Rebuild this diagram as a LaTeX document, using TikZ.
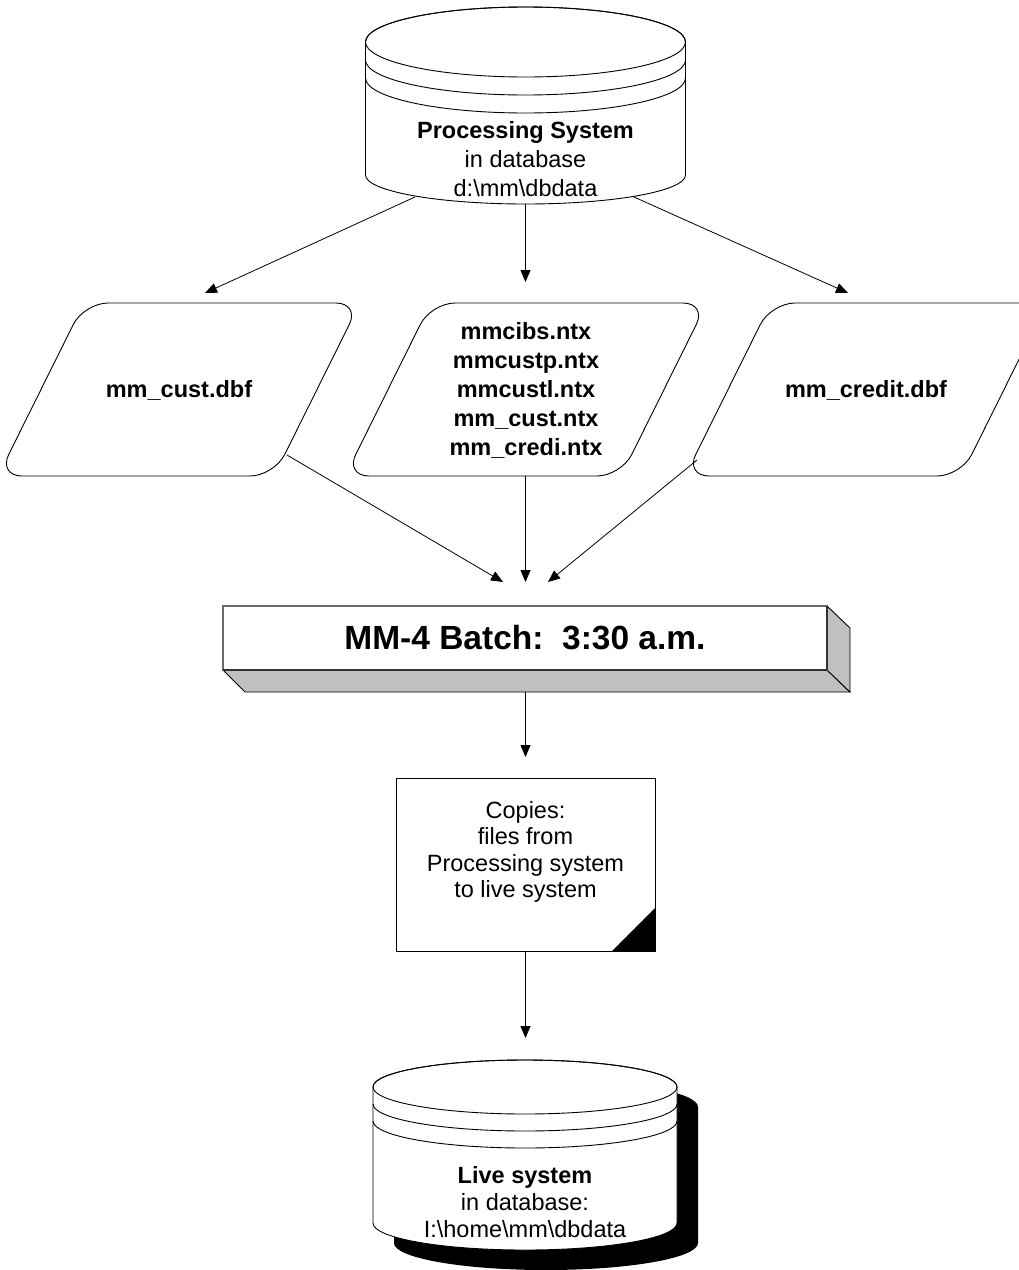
\documentclass[tikz,border=0pt]{standalone}
\usepackage{fontspec}
\setmainfont{Liberation Sans}
\usetikzlibrary{arrows.meta}
\definecolor{sidegray}{HTML}{C0C0C0}
\definecolor{edgegray}{HTML}{6A6A6A}
\begin{document}
\begin{tikzpicture}[x=1pt,y=-1pt,line width=0.9pt,
  conn/.style={-{Triangle[length=12pt,width=10pt]},line width=0.8pt},
  lbl/.style={align=center,inner sep=0pt,font=\fontsize{23.5}{29}\selectfont},
  para/.style={draw,fill=white,rounded corners=24pt,line width=0.9pt}]
\useasboundingbox (0,0) rectangle (1019,1270);
\clip (0,0) rectangle (1019,1270);

% ---------- top cylinder: Processing System ----------
\filldraw[fill=white] (365.5,42) -- (365.5,175)
  arc[start angle=180,end angle=0,x radius=160,y radius=29]
  -- (685.5,42) arc[start angle=0,end angle=-180,x radius=160,y radius=35] -- cycle;
\draw (525.5,42) ellipse[x radius=160,y radius=35];
\draw (365.5,60) arc[start angle=180,end angle=0,x radius=160,y radius=35];
\draw (365.5,78) arc[start angle=180,end angle=0,x radius=160,y radius=35];
\node[lbl] (procsys) at (525.5,159) {\textbf{Processing System}\\in database\\d:\textbackslash mm\textbackslash dbdata};

% ---------- parallelograms ----------
\draw[para] (84,303) -- (360,303) -- (274,476) -- (-2,476) -- cycle;
\node[lbl] (custdbf) at (179,390) {\textbf{mm\_cust.dbf}};
\draw[para] (431,303) -- (707,303) -- (621,476) -- (345,476) -- cycle;
\node[lbl] (ntx) at (526,390) {\textbf{mmcibs.ntx}\\\textbf{mmcustp.ntx}\\\textbf{mmcustl.ntx}\\\textbf{mm\_cust.ntx}\\\textbf{mm\_credi.ntx}};
\draw[para] (771,303) -- (1047,303) -- (961,476) -- (685,476) -- cycle;
\node[lbl] (creditdbf) at (866,390) {\textbf{mm\_credit.dbf}};

% ---------- batch 3D box ----------
\filldraw[fill=sidegray,draw=black] (223,670) -- (827,670) -- (850,692) -- (245,692) -- cycle;
\filldraw[fill=sidegray,draw=black] (827,606) -- (850,628) -- (850,692) -- (827,670) -- cycle;
\filldraw[fill=white,draw=edgegray,line width=1.2pt] (223,606) rectangle (827,670);
\draw[line width=1.2pt,draw=black!80] (223,670) -- (827,670) -- (827,606);
\node[font=\bfseries\fontsize{33.5}{40}\selectfont,inner sep=0pt] (batch) at (525,638) {MM-4 Batch:\ \ 3:30 a.m.};

% ---------- copies box ----------
\draw[fill=white] (396,778) rectangle (655,951);
\fill (612,951) -- (655,951) -- (655,908) -- cycle;
\node[lbl,font=\fontsize{23.5}{26.5}\selectfont] (copies) at (525.5,852) {Copies:\\files from\\Processing system\\to live system};

% ---------- bottom cylinder: Live system ----------
\fill (394,1107) -- (394,1243)
  arc[start angle=180,end angle=0,x radius=152,y radius=27]
  -- (698,1107) arc[start angle=0,end angle=-180,x radius=152,y radius=27] -- cycle;
\filldraw[fill=white] (373,1087) -- (373,1223)
  arc[start angle=180,end angle=0,x radius=152,y radius=27]
  -- (677,1087) arc[start angle=0,end angle=-180,x radius=152,y radius=27] -- cycle;
\draw (525,1087) ellipse[x radius=152,y radius=27];
\draw (373,1104) arc[start angle=180,end angle=0,x radius=152,y radius=27];
\draw (373,1121) arc[start angle=180,end angle=0,x radius=152,y radius=27];
\node[lbl,font=\fontsize{23.5}{27}\selectfont] (live) at (525,1202) {\textbf{Live system}\\in database:\\I:\textbackslash home\textbackslash mm\textbackslash dbdata};

% ---------- connector end points ----------
\coordinate (ps-l) at (415,197);
\coordinate (ps-c) at (525.5,204);
\coordinate (ps-r) at (634,197);
\coordinate (in-l) at (205,293);
\coordinate (in-c) at (525.5,282);
\coordinate (in-r) at (848,293);
\coordinate (out-l) at (287,455);
\coordinate (out-c) at (525.5,476);
\coordinate (out-r) at (697,460);
\coordinate (bin-l) at (503,582);
\coordinate (bin-c) at (525.5,582);
\coordinate (bin-r) at (548,582);
\coordinate (bout) at (525.5,692);
\coordinate (cin) at (525.5,757);
\coordinate (cout) at (525.5,951);
\coordinate (lin) at (525.5,1038);

% ---------- connectors ----------
\draw[conn] (ps-l) -- (in-l);
\draw[conn] (ps-c) -- (in-c);
\draw[conn] (ps-r) -- (in-r);
\draw[conn] (out-l) -- (bin-l);
\draw[conn] (out-c) -- (bin-c);
\draw[conn] (out-r) -- (bin-r);
\draw[conn] (bout) -- (cin);
\draw[conn] (cout) -- (lin);
\end{tikzpicture}
\end{document}
